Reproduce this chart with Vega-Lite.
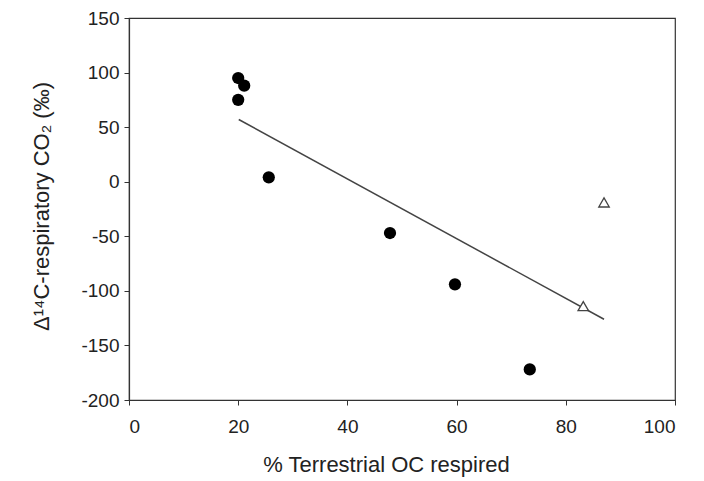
{
  "$schema": "https://vega.github.io/schema/vega-lite/v6.json",
  "autosize": "none",
  "width": 546,
  "height": 382,
  "padding": {"left": 129, "top": 18, "right": 29, "bottom": 81},
  "background": "white",
  "config": {
    "font": "Liberation Sans",
    "view": {"stroke": "#333", "strokeWidth": 1.2},
    "axis": {
      "grid": false,
      "domainColor": "#333",
      "domainWidth": 1.2,
      "tickColor": "#333",
      "tickSize": 5,
      "labelFont": "Liberation Sans",
      "titleFont": "Liberation Sans",
      "labelFontSize": 19,
      "titleFontSize": 22,
      "labelColor": "#222",
      "titleColor": "#222",
      "titleFontWeight": "normal"
    }
  },
  "datasets": {
    "filled": [
      {"terrestrial": 20.0, "d14c": 95},
      {"terrestrial": 21.1, "d14c": 88},
      {"terrestrial": 20.0, "d14c": 75},
      {"terrestrial": 25.6, "d14c": 4},
      {"terrestrial": 47.8, "d14c": -47},
      {"terrestrial": 59.7, "d14c": -94},
      {"terrestrial": 73.4, "d14c": -172}
    ],
    "open": [
      {"terrestrial": 87.0, "d14c": -19},
      {"terrestrial": 83.2, "d14c": -114}
    ],
    "fit": [
      {"terrestrial": 20.1, "d14c": 57},
      {"terrestrial": 87.0, "d14c": -126}
    ]
  },
  "layer": [
    {
      "data": {"name": "fit"},
      "mark": {"type": "line", "color": "#444", "strokeWidth": 1.5},
      "encoding": {
        "x": {"field": "terrestrial", "type": "quantitative", "scale": {"domain": [0, 100]},
              "axis": {"values": [0, 20, 40, 60, 80, 100], "labelExpr": "'' + datum.value", "title": "% Terrestrial OC respired", "labelPadding": 12, "titlePadding": 18, "titleX": 257}},
        "y": {"field": "d14c", "type": "quantitative", "scale": {"domain": [-200, 150]},
              "axis": {"values": [-200, -150, -100, -50, 0, 50, 100, 150], "labelExpr": "'' + datum.value", "title": "Δ¹⁴C-respiratory CO₂ (‰)", "labelPadding": 5, "titlePadding": 27, "titleY": 188}}
      }
    },
    {
      "data": {"name": "filled"},
      "mark": {"type": "point", "shape": "circle", "filled": true, "color": "black", "size": 150, "opacity": 1},
      "encoding": {
        "x": {"field": "terrestrial", "type": "quantitative"},
        "y": {"field": "d14c", "type": "quantitative"}
      }
    },
    {
      "data": {"name": "open"},
      "mark": {"type": "point", "shape": "triangle-up", "filled": false, "stroke": "#444", "fill": "white", "strokeWidth": 1.3, "size": 110, "opacity": 1},
      "encoding": {
        "x": {"field": "terrestrial", "type": "quantitative"},
        "y": {"field": "d14c", "type": "quantitative"}
      }
    }
  ]
}
